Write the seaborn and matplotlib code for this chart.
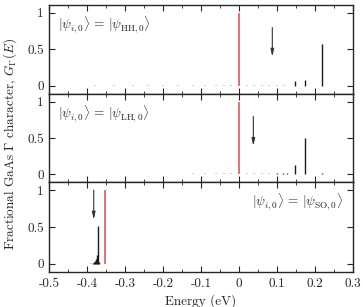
import matplotlib
matplotlib.use("Agg")
import matplotlib.pyplot as plt
import seaborn as sns
import numpy as np

# ---- data ----
panel_labels = [r"$|\psi_{i,0}\rangle \,=\, |\psi_{\mathrm{HH},0}\rangle$",
                r"$|\psi_{i,0}\rangle \,=\, |\psi_{\mathrm{LH},0}\rangle$",
                r"$|\psi_{i,0}\rangle \,=\, |\psi_{\mathrm{SO},0}\rangle$"]
red_energy = [0.0, 0.0, -0.353]
red_height = [1.0, 1.0, 1.0]

hh_energy = [-0.38, -0.33, -0.28, -0.24, -0.20, -0.16, -0.12, -0.09, -0.06, -0.04, -0.02,
             0.02, 0.04, 0.06, 0.08, 0.10, 0.12, 0.149, 0.175, 0.219]
hh_height = [0.004, 0.004, 0.004, 0.004, 0.004, 0.004, 0.005, 0.005, 0.005, 0.005, 0.005,
             0.005, 0.005, 0.006, 0.006, 0.007, 0.008, 0.07, 0.08, 0.57]

lh_energy = [-0.43, -0.38, -0.33, -0.28, -0.24, -0.20, -0.16, -0.12, -0.09, -0.06, -0.04, -0.02,
             0.02, 0.04, 0.06, 0.08, 0.10, 0.115, 0.128, 0.149, 0.175, 0.219]
lh_height = [0.004, 0.004, 0.004, 0.004, 0.004, 0.004, 0.004, 0.005, 0.005, 0.005, 0.005, 0.005,
             0.006, 0.006, 0.007, 0.008, 0.012, 0.018, 0.02, 0.12, 0.50, 0.015]

so_energy = [-0.39, -0.385, -0.382, -0.379, -0.377, -0.375, -0.373, -0.370]
so_height = [0.005, 0.01, 0.02, 0.04, 0.06, 0.12, 0.52, 0.03]

arrow_x = [0.088, 0.038, -0.383]
arrow_y0 = [0.80, 0.80, 1.0]
arrow_y1 = [0.40, 0.39, 0.60]

text_pos = [(0.03, 0.78, "left"), (0.03, 0.78, "left"), (0.97, 0.78, "right")]

xticks = [-0.5, -0.4, -0.3, -0.2, -0.1, 0.0, 0.1, 0.2, 0.3]
xticklabels = ["-0.5", "-0.4", "-0.3", "-0.2", "-0.1", "0", "0.1", "0.2", "0.3"]
yticks = [0, 0.5, 1]
yticklabels = ["0", "0.5", "1"]

sns.set_style("ticks")
plt.rcParams["font.family"] = "serif"
plt.rcParams["font.serif"] = ["cmr10", "DejaVu Serif"]
plt.rcParams["mathtext.fontset"] = "cm"
plt.rcParams["axes.unicode_minus"] = False
plt.rcParams["font.size"] = 9.5

fig = plt.figure(figsize=(3.63, 3.07), dpi=100)
left, right = 0.136, 0.9716
bounds = [(0.694, 0.984), (0.407, 0.694), (0.114, 0.407)]
stems = [(hh_energy, hh_height), (lh_energy, lh_height), (so_energy, so_height)]

for i in range(3):
    b0, b1 = bounds[i]
    ax = fig.add_axes([left, b0, right - left, b1 - b0])
    e = np.asarray(stems[i][0])
    h = np.asarray(stems[i][1])
    tiny = h < 0.01
    ax.vlines(e[tiny], -0.004, h[tiny] + 0.004, color="#c8c8c8", lw=1.2)
    ax.vlines(e[~tiny], 0, h[~tiny], color="#1a1a1a", lw=1.0)
    ax.vlines([red_energy[i]], 0, [red_height[i]], color="#e4585a", lw=1.2)
    ax.annotate("", xy=(arrow_x[i], arrow_y1[i]), xytext=(arrow_x[i], arrow_y0[i]),
                arrowprops=dict(arrowstyle="-|>,head_length=0.45,head_width=0.1",
                                color="#333333", lw=0.8, shrinkA=0, shrinkB=0))
    tx, ty, ha = text_pos[i]
    ax.text(tx, ty, panel_labels[i], transform=ax.transAxes, ha=ha, va="center",
            fontsize=9.5, color="#222222")
    ax.set_xlim(-0.5, 0.3)
    ax.set_ylim(-0.11, 1.11)
    ax.set_yticks(yticks)
    ax.set_yticklabels(yticklabels)
    ax.set_xticks(xticks)
    ax.set_xticks(np.arange(-0.45, 0.3, 0.1), minor=True)
    ax.tick_params(direction="in", top=True, right=True, length=4, width=0.8,
                   labelsize=9.5, pad=4)
    ax.tick_params(which="minor", direction="in", top=True, length=2, width=0.6)
    if i < 2:
        ax.set_xticklabels([])
    else:
        ax.set_xticklabels(xticklabels)
        ax.set_xlabel("Energy (eV)", fontsize=9.5, labelpad=3)
    for s in ax.spines.values():
        s.set_linewidth(1.0)

fig.text(0.028, 0.53, r"Fractional GaAs $\Gamma$ character, $G_\Gamma(E)$",
         rotation=90, ha="center", va="center", fontsize=9.5)

fig.savefig("out.png", dpi=100)
